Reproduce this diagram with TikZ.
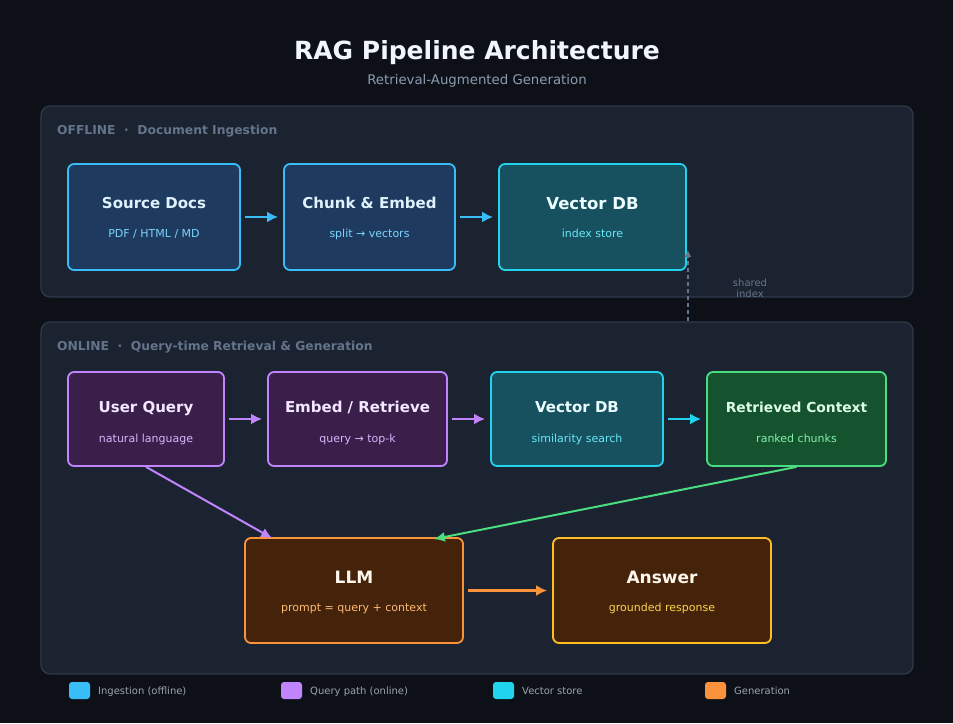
\documentclass[tikz,border=0pt]{standalone}
\usepackage{fontspec}
\setmainfont{DejaVu Sans}
\usetikzlibrary{arrows.meta,calc}
\definecolor{bgc}{HTML}{0D1117}
\definecolor{panelfill}{HTML}{1B2331}
\definecolor{panelline}{HTML}{2E3A4A}
\definecolor{seclabel}{HTML}{64748B}
\definecolor{titlec}{HTML}{F0F6FC}
\definecolor{subtitlec}{HTML}{8B9BB0}
\definecolor{bluefill}{HTML}{1E3A5F}
\definecolor{blueline}{HTML}{38BDF8}
\definecolor{bluesub}{HTML}{7DD3FC}
\definecolor{bluetitle}{HTML}{E0F2FE}
\definecolor{tealfill}{HTML}{17505F}
\definecolor{tealline}{HTML}{22D3EE}
\definecolor{tealsub}{HTML}{67E8F9}
\definecolor{tealtitle}{HTML}{ECFEFF}
\definecolor{purpfill}{HTML}{3B1F4B}
\definecolor{purpline}{HTML}{C084FC}
\definecolor{purpsub}{HTML}{D8B4FE}
\definecolor{purptitle}{HTML}{F3E8FF}
\definecolor{greenfill}{HTML}{14532D}
\definecolor{greenline}{HTML}{4ADE80}
\definecolor{greensub}{HTML}{86EFAC}
\definecolor{greentitle}{HTML}{DCFCE7}
\definecolor{brownfill}{HTML}{45230A}
\definecolor{orangeline}{HTML}{FB923C}
\definecolor{orangesub}{HTML}{FDBA74}
\definecolor{ambline}{HTML}{FBBF24}
\definecolor{ambsub}{HTML}{FCD34D}
\definecolor{warmtitle}{HTML}{FFF7ED}
\definecolor{dashc}{HTML}{64748B}
\definecolor{legendtext}{HTML}{9CA3AF}
\tikzset{
  panel/.style={draw=panelline, fill=panelfill, line width=1.2pt, rounded corners=9pt},
  box/.style={draw, line width=1.8pt, rounded corners=6pt, inner sep=0pt},
  ttl/.style={anchor=base, inner sep=0pt, font=\bfseries\fontsize{15}{18}\selectfont},
  bigttl/.style={anchor=base, inner sep=0pt, font=\bfseries\fontsize{17}{20}\selectfont},
  sub/.style={anchor=base, inner sep=0pt, font=\fontsize{11}{13}\selectfont},
  sec/.style={anchor=base west, inner sep=0pt, text=seclabel, font=\bfseries\fontsize{12.3}{14}\selectfont},
  flow/.style={line width=2.4pt, -{Latex[length=11pt,width=11pt]}, shorten <=4pt, shorten >=5pt},
  diag/.style={line width=2pt, -{Latex[length=11pt,width=10pt]}},
  legsq/.style={rounded corners=3pt, inner sep=0pt, minimum width=21pt, minimum height=17pt},
  legtxt/.style={anchor=base west, inner sep=0pt, text=legendtext, font=\fontsize{10}{12}\selectfont},
}
\begin{document}
\begin{tikzpicture}[x=1pt,y=-1pt]
\useasboundingbox (0,0) rectangle (953,723);
\fill[bgc] (0,0) rectangle (953,723);
% titles
\node[anchor=base, inner sep=0pt, text=titlec, font=\bfseries\fontsize{25}{29}\selectfont] (title) at (477,59) {RAG Pipeline Architecture};
\node[anchor=base, inner sep=0pt, text=subtitlec, font=\fontsize{13.3}{15}\selectfont] (subtitle) at (477,84.7) {Retrieval-Augmented Generation};
% panels
\node[panel, minimum width=872pt, minimum height=191pt] (offline) at (477,201.5) {};
\node[panel, minimum width=872pt, minimum height=352pt] (online) at (477,498) {};
\node[sec] (offlbl) at (57,134.3) {OFFLINE\hspace{0.7em}·\hspace{0.7em}Document Ingestion};
\node[sec] (onlbl) at (57,350.3) {ONLINE\hspace{0.7em}·\hspace{0.7em}Query-time Retrieval \& Generation};
% offline boxes
\node[box, draw=blueline, fill=bluefill, minimum width=172pt, minimum height=106pt] (sd) at (154,217) {};
\node[ttl, text=bluetitle] (sdt) at (154,208.4) {Source Docs};
\node[sub, text=bluesub] (sds) at (154,237) {PDF / HTML / MD};
\node[box, draw=blueline, fill=bluefill, minimum width=171pt, minimum height=106pt] (ce) at (369.5,217) {};
\node[ttl, text=bluetitle] (cet) at (369.5,208.4) {Chunk \& Embed};
\node[sub, text=bluesub] (ces) at (369.5,237) {split → vectors};
\node[box, draw=tealline, fill=tealfill, minimum width=187pt, minimum height=106pt] (vdb) at (592.5,217) {};
\node[anchor=base, inner sep=0pt, font=\bfseries\fontsize{16.5}{19}\selectfont, text=tealtitle] (vdbt) at (592.5,209) {Vector DB};
\node[sub, text=tealsub] (vdbs) at (592.5,237) {index store};
\draw[flow, blueline] (sd) -- (ce);
\draw[flow, blueline] (ce) -- (vdb);
% shared index
\coordinate (shA) at (688,321);
\coordinate (shB) at (688,250);
\draw[dashc, line width=1.3pt, dash pattern=on 4pt off 3pt, -{Latex[length=7pt,width=7pt]}] (shA) -- (shB);
\node[anchor=center, inner sep=0pt, align=center, text=dashc, font=\fontsize{10}{11}\selectfont] (shl) at (750,288.5) {shared\\index};
% online boxes
\node[box, draw=purpline, fill=purpfill, minimum width=156pt, minimum height=94pt] (uq) at (146,419) {};
\node[ttl, text=purptitle] (uqt) at (146,412.4) {User Query};
\node[sub, text=purpsub] (uqs) at (146,442) {natural language};
\node[box, draw=purpline, fill=purpfill, minimum width=179pt, minimum height=94pt] (er) at (357.5,419) {};
\node[ttl, text=purptitle] (ert) at (357.5,412.4) {Embed / Retrieve};
\node[sub, text=purpsub] (ers) at (357.5,442) {query → top-k};
\node[box, draw=tealline, fill=tealfill, minimum width=172pt, minimum height=94pt] (vdb2) at (577,419) {};
\node[ttl, text=tealtitle] (vdb2t) at (577,412.4) {Vector DB};
\node[sub, text=tealsub] (vdb2s) at (577,442) {similarity search};
\node[box, draw=greenline, fill=greenfill, minimum width=179pt, minimum height=94pt] (rc) at (796.5,419) {};
\node[anchor=base, inner sep=0pt, font=\bfseries\fontsize{13.8}{16}\selectfont, text=greentitle] (rct) at (796.5,412) {Retrieved Context};
\node[sub, text=greensub] (rcs) at (796.5,442) {ranked chunks};
\draw[flow, purpline] (uq) -- (er);
\draw[flow, purpline] (er) -- (vdb2);
\draw[flow, tealline] (vdb2) -- (rc);
% generation
\node[box, draw=orangeline, fill=brownfill, minimum width=218pt, minimum height=105pt] (llm) at (354,590.5) {};
\node[bigttl, text=warmtitle] (llmt) at (354,583) {LLM};
\node[sub, text=orangesub] (llms) at (354,611) {prompt = query + context};
\node[box, draw=ambline, fill=brownfill, minimum width=218pt, minimum height=105pt] (ans) at (662,590.5) {};
\node[bigttl, text=warmtitle] (anst) at (662,583) {Answer};
\node[sub, text=ambsub] (anss) at (662,611) {grounded response};
\draw[flow, orangeline] (llm) -- (ans);
\draw[diag, purpline] (uq.south) -- ([xshift=28pt,yshift=-1pt]llm.north west);
\draw[diag, greenline] (rc.south) -- ([xshift=-30pt,yshift=-2pt]llm.north east);
% legend
\node[legsq, fill=blueline] (lg1) at (79.5,690.5) {};
\node[legtxt] (lg1t) at (98,694) {Ingestion (offline)};
\node[legsq, fill=purpline] (lg2) at (291.5,690.5) {};
\node[legtxt] (lg2t) at (310,694) {Query path (online)};
\node[legsq, fill=tealline] (lg3) at (503.5,690.5) {};
\node[legtxt] (lg3t) at (522,694) {Vector store};
\node[legsq, fill=orangeline] (lg4) at (715.5,690.5) {};
\node[legtxt] (lg4t) at (734,694) {Generation};
\end{tikzpicture}
\end{document}
